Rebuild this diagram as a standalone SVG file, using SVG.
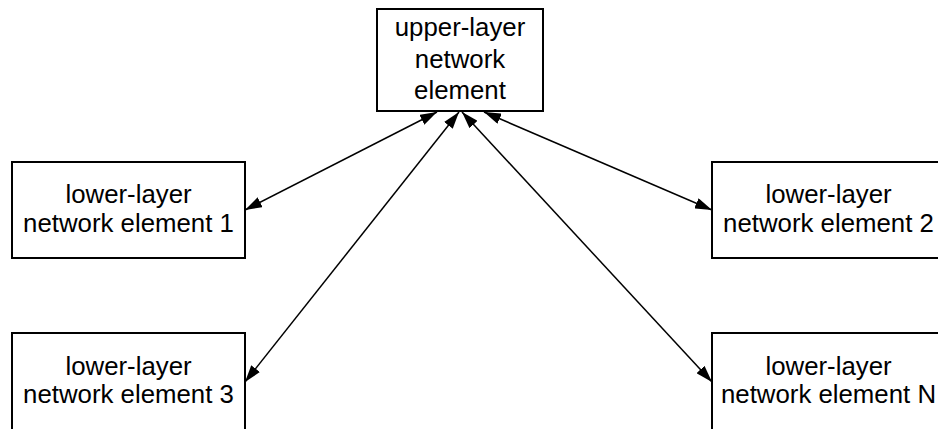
<svg xmlns="http://www.w3.org/2000/svg" width="938" height="429" viewBox="0 0 938 429">
  <defs>
    <style>
      .box { fill: #ffffff; stroke: #000000; stroke-width: 2; }
      .lbl { font-family: "Liberation Sans", Arial, sans-serif; font-size: 25.8px; fill: #000000; text-anchor: middle; }
      .conn { stroke: #000000; stroke-width: 1.5; fill: none; marker-start: url(#arr); marker-end: url(#arr); }
    </style>
    <marker id="arr" viewBox="0 0 17 11" refX="17" refY="5.5" markerWidth="17" markerHeight="11" markerUnits="userSpaceOnUse" orient="auto-start-reverse">
      <path d="M0,0 L17,5.5 L0,11 Z" fill="#000000"/>
    </marker>
  </defs>
  <rect width="938" height="429" fill="#ffffff"/>
  <g id="connectors">
    <line class="conn" x1="437" y1="112" x2="245" y2="210"/>
    <line class="conn" x1="484" y1="112" x2="712" y2="210"/>
    <line class="conn" x1="459" y1="112" x2="245" y2="382"/>
    <line class="conn" x1="462" y1="112" x2="712" y2="382"/>
  </g>
  <g id="upper">
    <rect class="box" x="377" y="9" width="166" height="102"/>
    <text class="lbl" x="460" y="36">upper-layer</text>
    <text class="lbl" x="460" y="68">network</text>
    <text class="lbl" x="460" y="99">element</text>
  </g>
  <g id="lower1">
    <rect class="box" x="12" y="162" width="233" height="96"/>
    <text class="lbl" x="128.5" y="203">lower-layer</text>
    <text class="lbl" x="128.5" y="232">network element 1</text>
  </g>
  <g id="lower2">
    <rect class="box" x="712" y="162" width="233" height="96"/>
    <text class="lbl" x="828.5" y="203">lower-layer</text>
    <text class="lbl" x="828.5" y="232">network element 2</text>
  </g>
  <g id="lower3">
    <rect class="box" x="12" y="333" width="233" height="110"/>
    <text class="lbl" x="128.5" y="375">lower-layer</text>
    <text class="lbl" x="128.5" y="403">network element 3</text>
  </g>
  <g id="lowerN">
    <rect class="box" x="712" y="333" width="233" height="110"/>
    <text class="lbl" x="828.5" y="375">lower-layer</text>
    <text class="lbl" x="828.5" y="403">network element N</text>
  </g>
</svg>
